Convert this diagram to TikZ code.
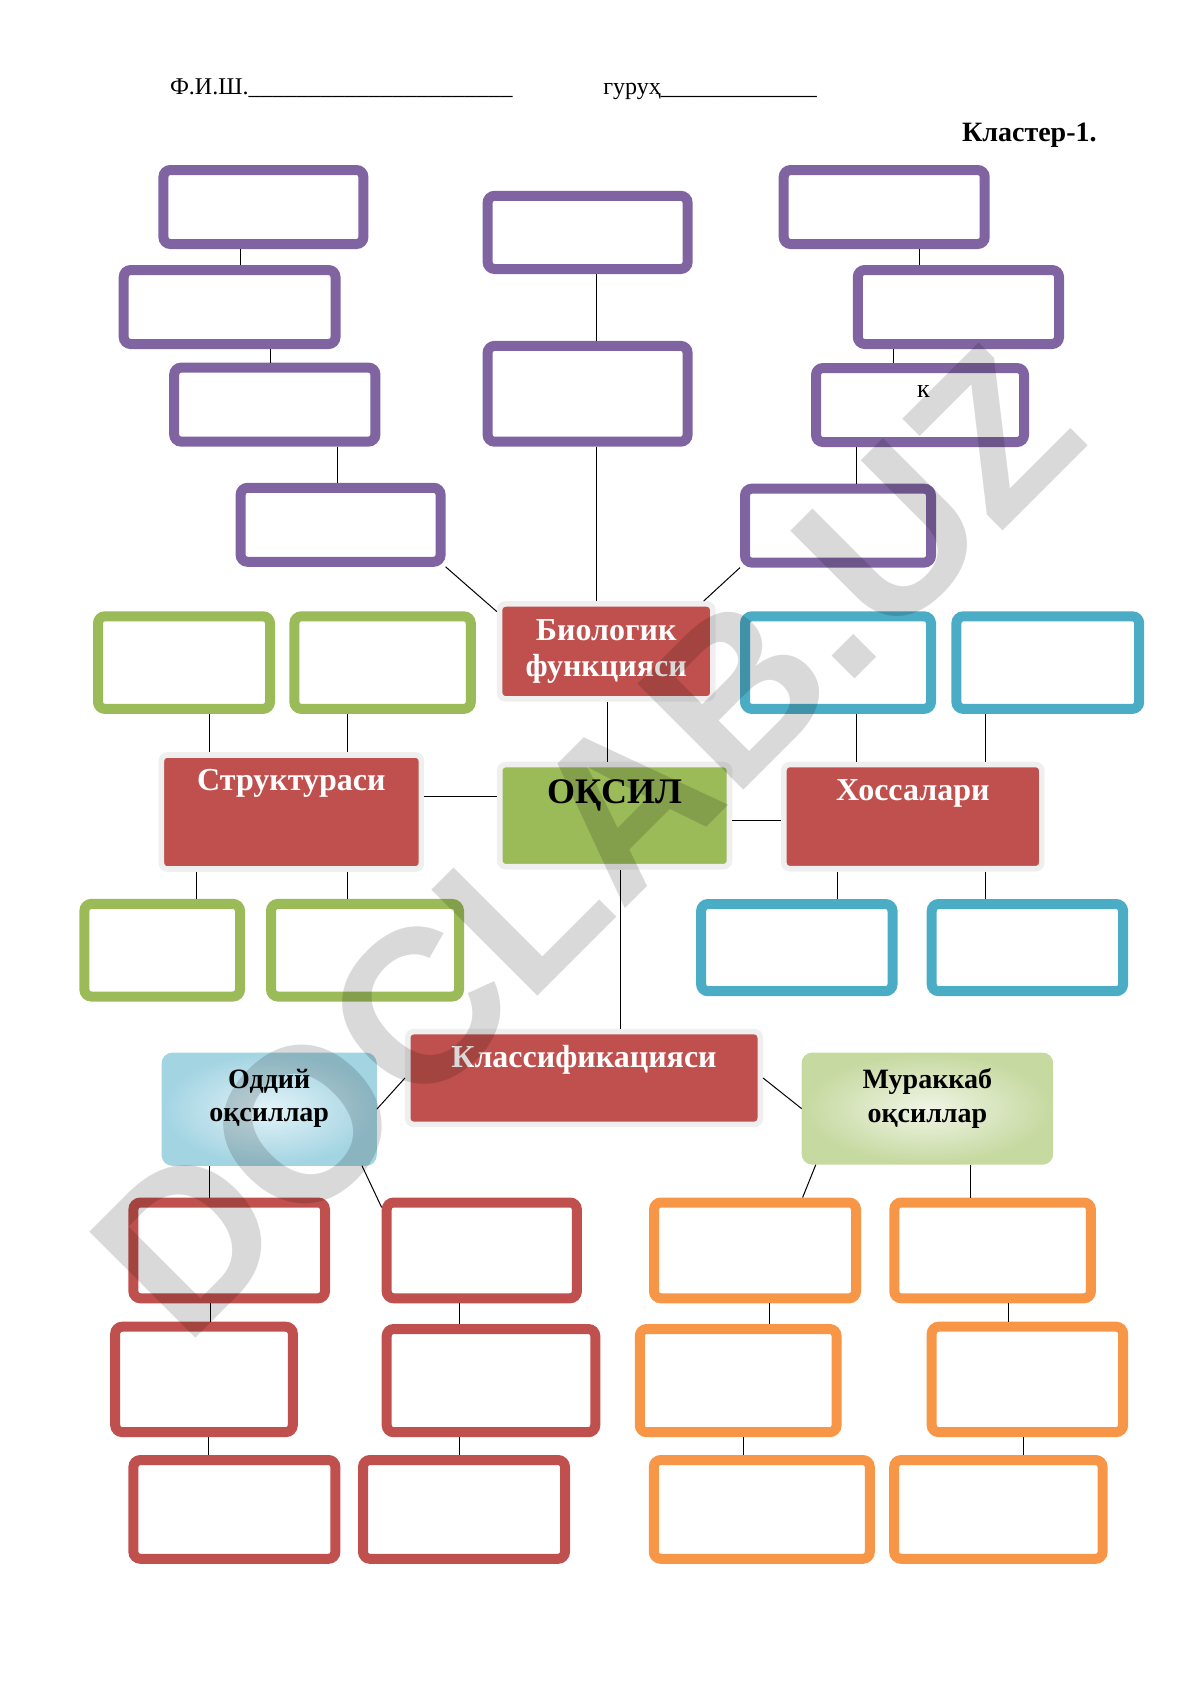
\documentclass[tikz,border=0pt]{standalone}
\usepackage{fontspec}
\setmainfont{Liberation Serif}
\newfontfamily\wmfont{Liberation Sans}
\usetikzlibrary{positioning}
\definecolor{OQPurple}{HTML}{8064A2}
\definecolor{OQGreen}{HTML}{9BBB59}
\definecolor{OQBlue}{HTML}{4BACC6}
\definecolor{OQRed}{HTML}{C0504D}
\definecolor{OQOrange}{HTML}{F79646}
\definecolor{OQHalo}{HTML}{EFEFEF}
\definecolor{OQIceIn}{HTML}{E3F3F8}
\definecolor{OQIceOut}{HTML}{A3D4E2}
\definecolor{OQSageIn}{HTML}{F0F5E6}
\definecolor{OQSageOut}{HTML}{C6D9A0}

\begin{document}
\begin{tikzpicture}[x=1pt,y=-1pt,
  emptybox/.style={draw=#1,line width=5pt,rounded corners=3.5pt,inner sep=0pt},
  headbox/.style={fill=#1,draw=OQHalo,line width=2.8pt,rounded corners=3pt,inner sep=0pt},
  kindbox/.style 2 args={shade,inner color=#1,outer color=#2,draw=#2,line width=0.8pt,rounded corners=5pt,inner sep=0pt},
  link/.style={black,line width=0.5pt},
  whitetitle/.style={text=white,font=\bfseries\fontsize{16}{18}\selectfont,inner sep=0pt},
  blacktitle/.style={text=black,font=\bfseries\fontsize{14}{16.6}\selectfont,align=center,inner sep=0pt}]
\useasboundingbox (0,0) rectangle (595,841.5);

% header
\node[anchor=base west,inner sep=0pt,font=\fontsize{12}{14}\selectfont] (fio) at (84.8,47.2) {Ф.И.Ш.\_\_\_\_\_\_\_\_\_\_\_\_\_\_\_\_\_\_\_\_\_\_};
\node[anchor=base west,inner sep=0pt,font=\fontsize{12}{14}\selectfont] (group) at (301.5,47.2) {гуруҳ\_\_\_\_\_\_\_\_\_\_\_\_\_};
\node[anchor=base east,inner sep=0pt,font=\bfseries\fontsize{14}{16}\selectfont] (title) at (548.5,70.8) {Кластер-1.};

% purple branch
\node[emptybox=OQPurple,minimum width=100pt,minimum height=37pt] (p1) at (131.7,103.5) {};
\node[emptybox=OQPurple,minimum width=105.9pt,minimum height=37pt] (p2) at (114.8,153.5) {};
\node[emptybox=OQPurple,minimum width=100.6pt,minimum height=37pt] (p3) at (137.4,202.3) {};
\node[emptybox=OQPurple,minimum width=100pt,minimum height=37pt] (p4) at (170.3,262.4) {};
\node[emptybox=OQPurple,minimum width=100pt,minimum height=36.6pt] (p5) at (293.8,116.2) {};
\node[emptybox=OQPurple,minimum width=100pt,minimum height=47.9pt] (p6) at (293.8,196.9) {};
\node[emptybox=OQPurple,minimum width=100.5pt,minimum height=37pt] (p7) at (442.1,103.5) {};
\node[emptybox=OQPurple,minimum width=100.6pt,minimum height=37pt] (p8) at (479.2,153.5) {};
\node[emptybox=OQPurple,minimum width=104pt,minimum height=37pt] (p9) at (460,202.5) {};
\node[emptybox=OQPurple,minimum width=93pt,minimum height=37pt] (p10) at (419,262.8) {};
\node[inner sep=0pt,font=\fontsize{13}{15}\selectfont] (kletter) at (461.7,195.8) {к};

% green and blue rows
\node[emptybox=OQGreen,minimum width=86pt,minimum height=46.3pt] (g1) at (92,331.3) {};
\node[emptybox=OQGreen,minimum width=88.2pt,minimum height=46.3pt] (g2) at (191.3,331.3) {};
\node[emptybox=OQBlue,minimum width=93pt,minimum height=46.3pt] (b1) at (419,331.3) {};
\node[emptybox=OQBlue,minimum width=91.4pt,minimum height=46.3pt] (b2) at (523.9,331.3) {};
\node[emptybox=OQGreen,minimum width=77.8pt,minimum height=46.3pt] (g3) at (81.1,475.1) {};
\node[emptybox=OQGreen,minimum width=94pt,minimum height=46.3pt] (g4) at (182.5,475.1) {};
\node[emptybox=OQBlue,minimum width=95.7pt,minimum height=43.6pt] (b3) at (398.4,473.8) {};
\node[emptybox=OQBlue,minimum width=95.7pt,minimum height=43.6pt] (b4) at (513.7,473.8) {};

% headings
\node[headbox=OQRed,minimum width=106.6pt,minimum height=47.5pt,text=white,align=center,
  font=\bfseries\fontsize{16}{18}\selectfont] (bio) at (303.1,325.7) {Биологик\\функцияси};
\node[headbox=OQRed,minimum width=130pt,minimum height=57pt] (str) at (145.7,406) {};
\node[headbox=OQGreen,minimum width=114.9pt,minimum height=51.1pt] (oqsil) at (307.3,407.8) {};
\node[headbox=OQRed,minimum width=129pt,minimum height=52.1pt] (hoss) at (456.4,408.3) {};
\node[headbox=OQRed,minimum width=176.3pt,minimum height=46.4pt] (klass) at (292,539) {};
\node[whitetitle,below=8.5pt of str.north] (strtext) {Структураси};
\node[whitetitle,below=8.7pt of hoss.north] (hosstext) {Хоссалари};
\node[whitetitle,below=8.2pt of klass.north] (klasstext) {Классификацияси};
\node[text=black,inner sep=0pt,font=\bfseries\fontsize{18}{20}\selectfont,below=8.7pt of oqsil.north] (oqsiltext) {ОҚСИЛ};
\node[kindbox={OQIceIn}{OQIceOut},minimum width=106.8pt,minimum height=55.8pt] (oddiy) at (134.6,554.6) {};
\node[kindbox={OQSageIn}{OQSageOut},minimum width=125pt,minimum height=55.3pt] (murakkab) at (463.7,554.3) {};
\node[blacktitle,anchor=north] (oddiytext) at ([yshift=-8pt]oddiy.north) {Оддий\\оқсиллар};
\node[blacktitle,anchor=north] (murakkabtext) at ([yshift=-8pt]murakkab.north) {Мураккаб\\оқсиллар};

% red and orange rows
\node[emptybox=OQRed,minimum width=95.8pt,minimum height=47.9pt] (r1) at (114.6,625.2) {};
\node[emptybox=OQRed,minimum width=95.1pt,minimum height=47.9pt] (r2) at (240.9,625.2) {};
\node[emptybox=OQRed,minimum width=88.8pt,minimum height=52.7pt] (r3) at (102,689.7) {};
\node[emptybox=OQRed,minimum width=104.3pt,minimum height=51.6pt] (r4) at (245.5,690.3) {};
\node[emptybox=OQRed,minimum width=101pt,minimum height=49.4pt] (r5) at (117.2,754.7) {};
\node[emptybox=OQRed,minimum width=101pt,minimum height=49.4pt] (r6) at (232,754.7) {};
\node[emptybox=OQOrange,minimum width=101pt,minimum height=47.9pt] (o1) at (377.5,625.2) {};
\node[emptybox=OQOrange,minimum width=98.3pt,minimum height=47.9pt] (o2) at (496.3,625.2) {};
\node[emptybox=OQOrange,minimum width=98.4pt,minimum height=51.6pt] (o3) at (369.1,690.3) {};
\node[emptybox=OQOrange,minimum width=95.7pt,minimum height=52.7pt] (o4) at (513.7,689.7) {};
\node[emptybox=OQOrange,minimum width=108pt,minimum height=49.4pt] (o5) at (380.9,754.7) {};
\node[emptybox=OQOrange,minimum width=104.2pt,minimum height=49.4pt] (o6) at (499.2,754.7) {};

% connectors
\draw[link] ([xshift=-11.5pt]p1.south) -- ([xshift=-11.5pt]p1.south |- p2.north);
\draw[link] ([xshift=20.4pt]p2.south) -- ([xshift=20.4pt]p2.south |- p3.north);
\draw[link] ([xshift=31.1pt]p3.south) -- ([xshift=31.1pt]p3.south |- p4.north);
\draw[link] ([xshift=4.5pt]p5.south) -- ([xshift=4.5pt]p5.south |- p6.north);
\draw[link] ([xshift=4.5pt]p6.south) -- ([xshift=4.5pt]p6.south |- bio.north);
\draw[link] (p4.south east) -- (bio.160);
\draw[link] ([xshift=17.7pt]p7.south) -- ([xshift=17.7pt]p7.south |- p8.north);
\draw[link] ([xshift=-32.3pt]p8.south) -- ([xshift=-32.3pt]p8.south |- p9.north);
\draw[link] ([xshift=-31.7pt]p9.south) -- ([xshift=-31.7pt]p9.south |- p10.north);
\draw[link] (p10.south west) -- ([xshift=-6pt]bio.north east);
\draw[link] ([xshift=12.6pt]g1.south) -- ([xshift=12.6pt]g1.south |- str.north);
\draw[link] ([xshift=-17.6pt]g2.south) -- ([xshift=-17.6pt]g2.south |- str.north);
\draw[link] ([xshift=9.2pt]b1.south) -- ([xshift=9.2pt]b1.south |- hoss.north);
\draw[link] ([xshift=-31.3pt]b2.south) -- ([xshift=-31.3pt]b2.south |- hoss.north);
\draw[link] ([xshift=0.7pt]bio.south) -- ([xshift=0.7pt]bio.south |- oqsil.north);
\draw[link] ([yshift=8pt]str.east) -- ([yshift=8pt]str.east -| oqsil.west);
\draw[link] ([yshift=-2.2pt]oqsil.east) -- ([yshift=-2.2pt]oqsil.east -| hoss.west);
\draw[link] ([xshift=-47.5pt]str.south) -- ([xshift=-47.5pt]str.south |- g3.north);
\draw[link] ([xshift=28pt]str.south) -- ([xshift=28pt]str.south |- g4.north);
\draw[link] ([xshift=-37.6pt]hoss.south) -- ([xshift=-37.6pt]hoss.south |- b3.north);
\draw[link] ([xshift=36.2pt]hoss.south) -- ([xshift=36.2pt]hoss.south |- b4.north);
\draw[link] ([xshift=3pt]oqsil.south) -- ([xshift=3pt]oqsil.south |- klass.north);
\draw[link] (klass.west) -- (oddiy.east);
\draw[link] (klass.east) -- (murakkab.west);
\draw[link] ([xshift=-29.9pt]oddiy.south) -- ([xshift=-29.9pt]oddiy.south |- r1.north);
\draw[link] ([xshift=-7.4pt]oddiy.south east) -- ([yshift=-5pt]r2.north west);
\draw[link] ([xshift=-9.6pt]r1.south) -- ([xshift=-9.6pt]r1.south |- r3.north);
\draw[link] ([xshift=2.1pt]r3.south) -- ([xshift=2.1pt]r3.south |- r5.north);
\draw[link] ([xshift=-11.4pt]r2.south) -- ([xshift=-11.4pt]r2.south |- r4.north);
\draw[link] ([xshift=-15.9pt]r4.south) -- ([xshift=-15.9pt]r4.south |- r6.north);
\draw[link] ([xshift=7.1pt]murakkab.south west) -- ([xshift=23.8pt]o1.north);
\draw[link] ([xshift=21.3pt]murakkab.south) -- ([xshift=21.3pt]murakkab.south |- o2.north);
\draw[link] ([xshift=7.2pt]o1.south) -- ([xshift=7.2pt]o1.south |- o3.north);
\draw[link] ([xshift=2.7pt]o3.south) -- ([xshift=2.7pt]o3.south |- o5.north);
\draw[link] ([xshift=8.1pt]o2.south) -- ([xshift=8.1pt]o2.south |- o4.north);
\draw[link] ([xshift=-1.8pt]o4.south) -- ([xshift=-1.8pt]o4.south |- o6.north);

% watermark
\node[rotate=45,inner sep=0pt,text=black,opacity=0.15,font=\wmfont\bfseries\fontsize{109}{109}\selectfont] (mark) at (293,421) {DOCLAB.UZ};
\end{tikzpicture}
\end{document}
